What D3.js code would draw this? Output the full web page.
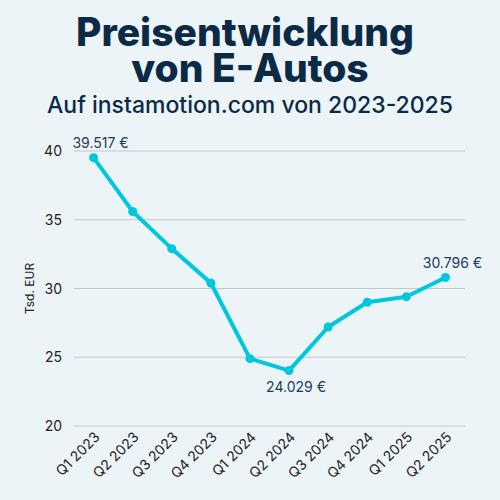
<!DOCTYPE html>
<html>
<head>
<meta charset="utf-8">
<script src="https://cdn.jsdelivr.net/npm/d3@7"></script>
<style>
  body { margin: 0; background: #edf4f8; }
  svg { display: block; }
</style>
</head>
<body>
<svg id="chart" width="500" height="500"></svg>
<script>
var quarters = ["Q1 2023","Q2 2023","Q3 2023","Q4 2023","Q1 2024","Q2 2024","Q3 2024","Q4 2024","Q1 2025","Q2 2025"];
var prices = [39.517, 35.6, 32.9, 30.4, 24.9, 24.029, 27.2, 29.0, 29.4, 30.796];
var yTicks = [20, 25, 30, 35, 40];
// labelled points: index, position of label
var callouts = [
  {i: 0, text: "39.517 €", pos: "above"},
  {i: 5, text: "24.029 €", pos: "below"},
  {i: 9, text: "30.796 €", pos: "above"}
];

var svg = d3.select("#chart");
var navy = "#0b2a45";

svg.append("rect").attr("width", 500).attr("height", 500).attr("fill", "#edf4f8");

// titles
svg.append("text").attr("x", 245).attr("y", 46).attr("text-anchor", "middle")
  .style("font-family", "Inter").style("font-weight", 800).style("font-size", "39px")
  .attr("fill", navy).text("Preisentwicklung");
svg.append("text").attr("x", 250).attr("y", 82).attr("text-anchor", "middle")
  .style("font-family", "Inter").style("font-weight", 800).style("font-size", "39px")
  .attr("fill", navy).text("von E-Autos");
svg.append("text").attr("x", 250).attr("y", 113).attr("text-anchor", "middle")
  .style("font-family", "Inter").style("font-weight", 500).style("font-size", "23px")
  .attr("fill", navy).text("Auf instamotion.com von 2023-2025");

var plotL = 74, plotR = 465, plotT = 151, plotB = 426;

var x = d3.scalePoint().domain(quarters).range([plotL, plotR]).padding(0.5);
var y = d3.scaleLinear().domain([20, 40]).range([plotB, plotT]);

// grid
svg.append("g").selectAll("line").data(yTicks).enter().append("line")
  .attr("x1", plotL).attr("x2", plotR)
  .attr("y1", function(d){ return y(d); }).attr("y2", function(d){ return y(d); })
  .attr("stroke", "#c2c7cc").attr("stroke-width", 1.2);

// y labels
svg.append("g").selectAll("text").data(yTicks).enter().append("text")
  .attr("x", 62).attr("y", function(d){ return y(d) + 5; })
  .attr("text-anchor", "end")
  .style("font-family", "Inter").style("font-size", "14px")
  .attr("fill", "#222").text(function(d){ return d; });

svg.append("text")
  .attr("transform", "translate(34," + y(30) + ") rotate(-90)")
  .attr("text-anchor", "middle")
  .style("font-family", "Inter").style("font-size", "12px")
  .attr("fill", "#222").text("Tsd. EUR");

// x labels
svg.append("g").selectAll("text").data(quarters).enter().append("text")
  .attr("transform", function(d){ return "translate(" + (x(d) + 7) + "," + (plotB + 12) + ") rotate(-45)"; })
  .attr("text-anchor", "end")
  .style("font-family", "Inter").style("font-size", "14px")
  .attr("fill", "#222").text(function(d){ return d; });

// line
var line = d3.line()
  .x(function(d, i){ return x(quarters[i]); })
  .y(function(d){ return y(d); });

svg.append("path").datum(prices)
  .attr("d", line).attr("fill", "none")
  .attr("stroke", "#00c8dc").attr("stroke-width", 4)
  .attr("stroke-linejoin", "round");

svg.append("g").selectAll("circle").data(prices).enter().append("circle")
  .attr("cx", function(d, i){ return x(quarters[i]); })
  .attr("cy", function(d){ return y(d); })
  .attr("r", 4.5).attr("fill", "#00c8dc");

// callouts
svg.append("g").selectAll("text").data(callouts).enter().append("text")
  .attr("x", function(d){ return x(quarters[d.i]) + 7; })
  .attr("y", function(d){ return y(prices[d.i]) + (d.pos == "above" ? -10 : 21); })
  .attr("text-anchor", "middle")
  .style("font-family", "Inter").style("font-size", "14px")
  .attr("fill", "#1c3b5a").text(function(d){ return d.text; });
</script>
</body>
</html>
